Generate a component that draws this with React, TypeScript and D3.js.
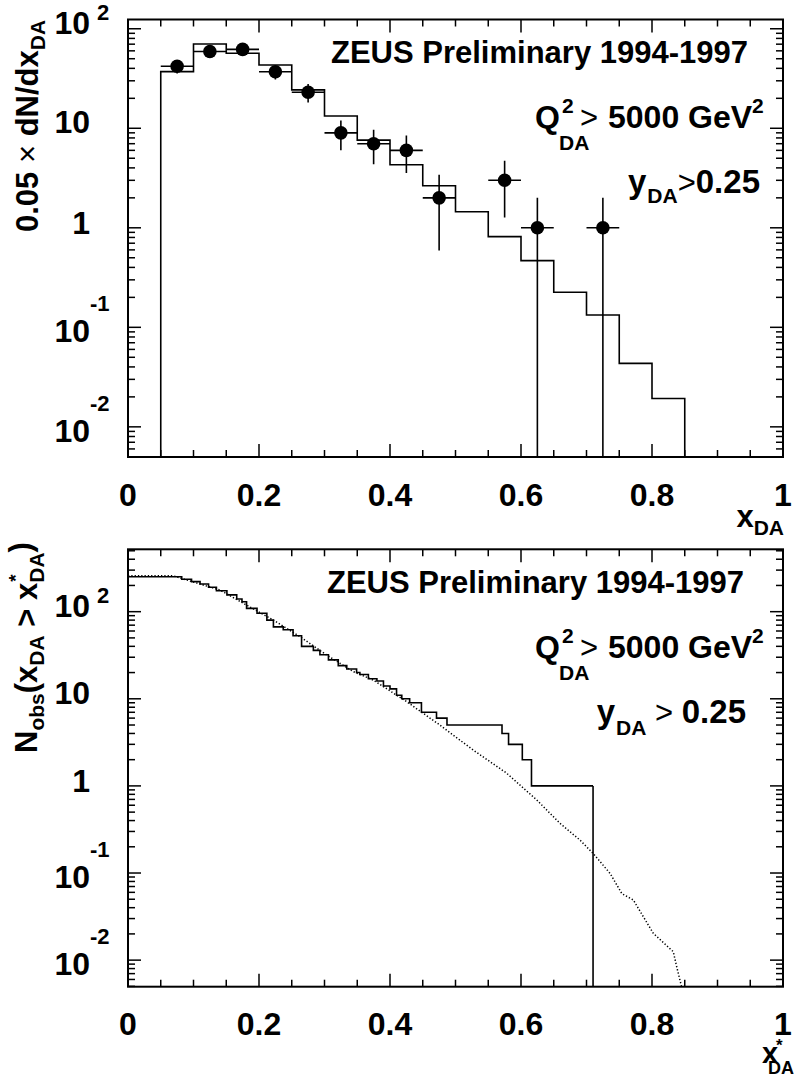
import * as d3 from "d3";
import { useEffect, useRef } from "react";

const W = 807;
const H = 1078;
const FONT = "'Liberation Sans', Arial, Helvetica, sans-serif";
const SP = "\u00a0";

// ---- top panel: x_DA distribution ----
const mcEdges = [0.05, 0.1, 0.15, 0.2, 0.25, 0.3, 0.35, 0.4, 0.45, 0.5, 0.55, 0.6, 0.65, 0.7, 0.75, 0.8, 0.85];
const mcCounts = [37.1, 70.3, 56.7, 43.3, 24.3, 13.3, 7.6, 4.3, 2.65, 1.45, 0.815, 0.468, 0.225, 0.133, 0.0434, 0.0193];
const dataX = [0.075, 0.125, 0.175, 0.225, 0.275, 0.325, 0.375, 0.425, 0.475, 0.575, 0.625, 0.725];
const dataN = [42, 59, 62, 37, 23, 9, 7, 6, 2, 3, 1, 1];
const dataErr = [6.5, 7.7, 7.9, 6.1, 4.8, 3, 2.65, 2.45, 1.41, 1.73, 1, 1];
const binHalf = 0.025;

// ---- bottom panel: N_obs(x_DA > x*) ----
const obsX = [0, 0.082, 0.097, 0.11, 0.123, 0.135, 0.151, 0.166, 0.174, 0.181, 0.197, 0.212, 0.222, 0.237, 0.252, 0.265, 0.283, 0.293, 0.306, 0.321, 0.334, 0.349, 0.354, 0.367, 0.38, 0.39, 0.4, 0.41, 0.418, 0.43, 0.448, 0.471, 0.487, 0.571, 0.581, 0.602, 0.616];
const obsN = [252, 236, 221, 208, 191, 174, 156, 140, 130, 109, 96, 80, 67, 62, 53, 40, 36, 32, 28, 24, 22, 20, 19, 17, 16, 14, 13, 11, 10, 9, 7, 6, 5, 4, 3, 2, 1];
const obsEnd = 0.71;
const expX = [0, 0.069, 0.0896, 0.1405, 0.181, 0.222, 0.2626, 0.3034, 0.344, 0.3745, 0.4255, 0.476, 0.527, 0.578, 0.624, 0.6595, 0.69, 0.71, 0.736, 0.754, 0.7715, 0.802, 0.8325, 0.8377, 0.845];
const expN = [258, 258, 231, 177, 119, 80, 51.6, 31.8, 20.5, 16.4, 9.26, 5.0, 2.58, 1.4, 0.69, 0.372, 0.239, 0.168, 0.099, 0.058, 0.049, 0.0203, 0.0125, 0.0084, 0.005];

const xTickLabels = [0, 0.2, 0.4, 0.6, 0.8, 1];
const yLabelExp = [-2, -1, 0, 1, 2];

type Part = { t: string; fs: number; dy?: number; dx?: number; stack?: boolean; normal?: boolean };
type Sel = d3.Selection<any, unknown, null, undefined>;

// lays out text pieces one after the other (sub/superscripts via dy)
function rich(parent: Sel, x: number, y: number, parts: Part[], anchor = "start", rotate = 0) {
  const outer = parent.append("g").attr("transform", `translate(${x},${y}) rotate(${rotate})`);
  const g = outer.append("g");
  let cur = 0;
  let stackW = 0;
  for (const p of parts) {
    const el = g
      .append("text")
      .attr("x", cur + (p.dx ?? 0))
      .attr("y", p.dy ?? 0)
      .attr("font-size", p.fs)
      .attr("font-weight", p.normal ? "normal" : "bold")
      .attr("font-family", FONT)
      .attr("fill", "#000")
      .text(p.t);
    const w = (el.node() as SVGTextElement).getComputedTextLength() + (p.dx ?? 0);
    if (p.stack) stackW = Math.max(stackW, w);
    else {
      cur += Math.max(w, stackW);
      stackW = 0;
    }
  }
  if (anchor === "end") g.attr("transform", `translate(${-cur},0)`);
  return outer;
}

function txt(parent: Sel, x: number, y: number, s: string, fs: number, anchor = "start", normal = false) {
  return parent
    .append("text")
    .attr("x", x)
    .attr("y", y)
    .attr("text-anchor", anchor)
    .attr("font-size", fs)
    .attr("font-weight", normal ? "normal" : "bold")
    .attr("font-family", FONT)
    .attr("fill", "#000")
    .text(s);
}

// "Q^2_DA > 5000 GeV^2" placed piece by piece like the TLatex original
function qLabel(svg: Sel, base: number) {
  txt(svg, 535, base, "Q", 32);
  txt(svg, 562, base - 15, "2", 21);
  txt(svg, 559, base + 22, "DA", 21);
  txt(svg, 580, base, ">", 31, "start", true);
  txt(svg, 608, base, `5000${SP}GeV`, 32);
  txt(svg, 752, base - 15, "2", 21);
}

function drawFrame(
  svg: Sel,
  x: d3.ScaleLinear<number, number>,
  y: d3.ScaleLogarithmic<number, number>,
  labelPos: (e: number) => { tx: number; ty: number; sx: number; sy: number },
  tickLabelY: number
) {
  const [x0, x1] = x.range();
  const [yb, yt] = y.range();
  const [d0, d1] = y.domain();
  const g = svg.append("g").attr("stroke", "#000").attr("fill", "none");

  // x ticks every 0.05, major at 0.2
  d3.range(0, 21).forEach((i) => {
    const v = i * 0.05;
    const len = i % 4 === 0 ? 13 : 7;
    g.append("line").attr("x1", x(v)).attr("x2", x(v)).attr("y1", yb).attr("y2", yb - len).attr("stroke-width", 1.5);
    g.append("line").attr("x1", x(v)).attr("x2", x(v)).attr("y1", yt).attr("y2", yt + len).attr("stroke-width", 1.5);
  });

  // log y ticks
  for (let e = -3; e <= 3; e++) {
    for (let k = 1; k <= 9; k++) {
      const v = k * Math.pow(10, e);
      if (v < d0 || v > d1) continue;
      const len = k === 1 ? 13 : 7;
      g.append("line").attr("x1", x0).attr("x2", x0 + len).attr("y1", y(v)).attr("y2", y(v)).attr("stroke-width", 1.5);
      g.append("line").attr("x1", x1).attr("x2", x1 - len).attr("y1", y(v)).attr("y2", y(v)).attr("stroke-width", 1.5);
    }
  }

  g.append("rect")
    .attr("x", x0)
    .attr("y", yt)
    .attr("width", x1 - x0)
    .attr("height", yb - yt)
    .attr("stroke-width", 2);

  xTickLabels.forEach((v) => {
    txt(svg, x(v), tickLabelY, String(v), 32, "middle");
  });

  // y tick labels: 1, 10, 10^n
  yLabelExp.forEach((e) => {
    const ty = y(Math.pow(10, e));
    const p = labelPos(e);
    txt(svg, p.tx, ty + p.ty, e === 0 ? "1" : "10", 32, "end");
    if (e !== 0 && e !== 1) txt(svg, p.sx, ty + p.sy, String(e), 22);
  });
}

const labelPos = (e: number) =>
  e < 0 ? { tx: 90, ty: 15, sx: 90, sy: -16 } : { tx: 90, ty: e === 0 ? 6 : 5, sx: 97, sy: -9 };

export default function App() {
  const ref = useRef<SVGSVGElement | null>(null);

  useEffect(() => {
    if (!ref.current) return;
    const svg = d3.select(ref.current) as unknown as Sel;
    svg.selectAll("*").remove();
    svg.append("rect").attr("width", W).attr("height", H).attr("fill", "#fff");

    const x = d3.scaleLinear().domain([0, 1]).range([128, 783]);
    const yTop = d3.scaleLog().domain([Math.pow(10, -2.303), Math.pow(10, 2.093)]).range([457, 19.5]);
    const yBot = d3.scaleLog().domain([Math.pow(10, -2.305), Math.pow(10, 2.716)]).range([986.7, 549.3]);

    const defs = svg.append("defs");
    defs.append("clipPath").attr("id", "clipTop").append("rect").attr("x", 128).attr("y", 19.5).attr("width", 655).attr("height", 437.5);
    defs.append("clipPath").attr("id", "clipBot").append("rect").attr("x", 128).attr("y", 549.3).attr("width", 655).attr("height", 437.4);

    // ---------- top panel ----------
    const top = svg.append("g").attr("clip-path", "url(#clipTop)");
    const yTopMin = yTop.domain()[0];
    let hist = `M${x(mcEdges[0])},${yTop.range()[0]}`;
    mcCounts.forEach((c, i) => {
      hist += `L${x(mcEdges[i])},${yTop(c)}L${x(mcEdges[i + 1])},${yTop(c)}`;
    });
    hist += `L${x(mcEdges[mcEdges.length - 1])},${yTop.range()[0]}`;
    top.append("path").attr("d", hist).attr("fill", "none").attr("stroke", "#000").attr("stroke-width", 1.6);

    dataX.forEach((xv, i) => {
      const n = dataN[i];
      const lo = Math.max(n - dataErr[i], yTopMin);
      top.append("line").attr("x1", x(xv - binHalf)).attr("x2", x(xv + binHalf)).attr("y1", yTop(n)).attr("y2", yTop(n)).attr("stroke", "#000").attr("stroke-width", 1.6);
      top.append("line").attr("x1", x(xv)).attr("x2", x(xv)).attr("y1", yTop(lo)).attr("y2", yTop(n + dataErr[i])).attr("stroke", "#000").attr("stroke-width", 1.6);
      top.append("circle").attr("cx", x(xv)).attr("cy", yTop(n)).attr("r", 6.8).attr("fill", "#000");
    });

    drawFrame(svg, x, yTop, labelPos, 506);

    txt(svg, 748, 63, "ZEUS Preliminary 1994-1997", 31, "end");
    qLabel(svg, 128);
    rich(
      svg,
      760,
      193,
      [
        { t: "y", fs: 33 },
        { t: "DA", fs: 21, dy: 10, dx: 1 },
        { t: ">", fs: 31, normal: true },
        { t: "0.25", fs: 33 },
      ],
      "end"
    );

    rich(
      svg,
      38,
      232,
      [
        { t: `0.05${SP}`, fs: 31 },
        { t: "×", fs: 31, normal: true },
        { t: `${SP}dN/dx`, fs: 31 },
        { t: "DA", fs: 21, dy: 7 },
      ],
      "start",
      -90
    );
    rich(svg, 784, 527, [{ t: "x", fs: 31 }, { t: "DA", fs: 21, dy: 8 }], "end");

    // ---------- bottom panel ----------
    const bot = svg.append("g").attr("clip-path", "url(#clipBot)");
    const obsPts: [number, number][] = obsX.map((v, i) => [v, obsN[i]]);
    obsPts.push([obsEnd, 1]);
    const stepLine = d3
      .line<[number, number]>()
      .x((d) => x(d[0]))
      .y((d) => yBot(d[1]))
      .curve(d3.curveStepAfter);
    bot.append("path").attr("d", stepLine(obsPts)).attr("fill", "none").attr("stroke", "#000").attr("stroke-width", 1.6);
    bot.append("line").attr("x1", x(obsEnd)).attr("x2", x(obsEnd)).attr("y1", yBot(1)).attr("y2", yBot.range()[0]).attr("stroke", "#000").attr("stroke-width", 1.6);

    const expLine = d3
      .line<number>()
      .x((d) => x(d))
      .y((_d, i) => yBot(expN[i]));
    bot.append("path").attr("d", expLine(expX)).attr("fill", "none").attr("stroke", "#000").attr("stroke-width", 1.5).attr("stroke-dasharray", "1.3 2");

    drawFrame(svg, x, yBot, labelPos, 1035);

    txt(svg, 744, 593, "ZEUS Preliminary 1994-1997", 31, "end");
    qLabel(svg, 658);
    rich(
      svg,
      746,
      723,
      [
        { t: "y", fs: 33 },
        { t: "DA", fs: 21, dy: 12, dx: 1 },
        { t: `${SP}>${SP}`, fs: 31, normal: true },
        { t: "0.25", fs: 33 },
      ],
      "end"
    );

    rich(
      svg,
      37,
      753,
      [
        { t: "N", fs: 31 },
        { t: "obs", fs: 21, dy: 7 },
        { t: "(x", fs: 31 },
        { t: "DA", fs: 21, dy: 7 },
        { t: `${SP}>${SP}x`, fs: 31 },
        { t: "*", fs: 19, dy: -15, dx: 1, stack: true },
        { t: "DA", fs: 21, dy: 7 },
        { t: ")", fs: 31, dy: -6 },
      ],
      "start",
      -90
    );
    // x*_DA axis title, stacked under the "1" label as in the original
    txt(svg, 762, 1063, "x", 29);
    txt(svg, 776, 1051, "*", 17);
    txt(svg, 768, 1074, "DA", 18);
  }, []);

  return <svg ref={ref} width={W} height={H} style={{ position: "absolute", left: 0, top: 0, display: "block" }} />;
}
